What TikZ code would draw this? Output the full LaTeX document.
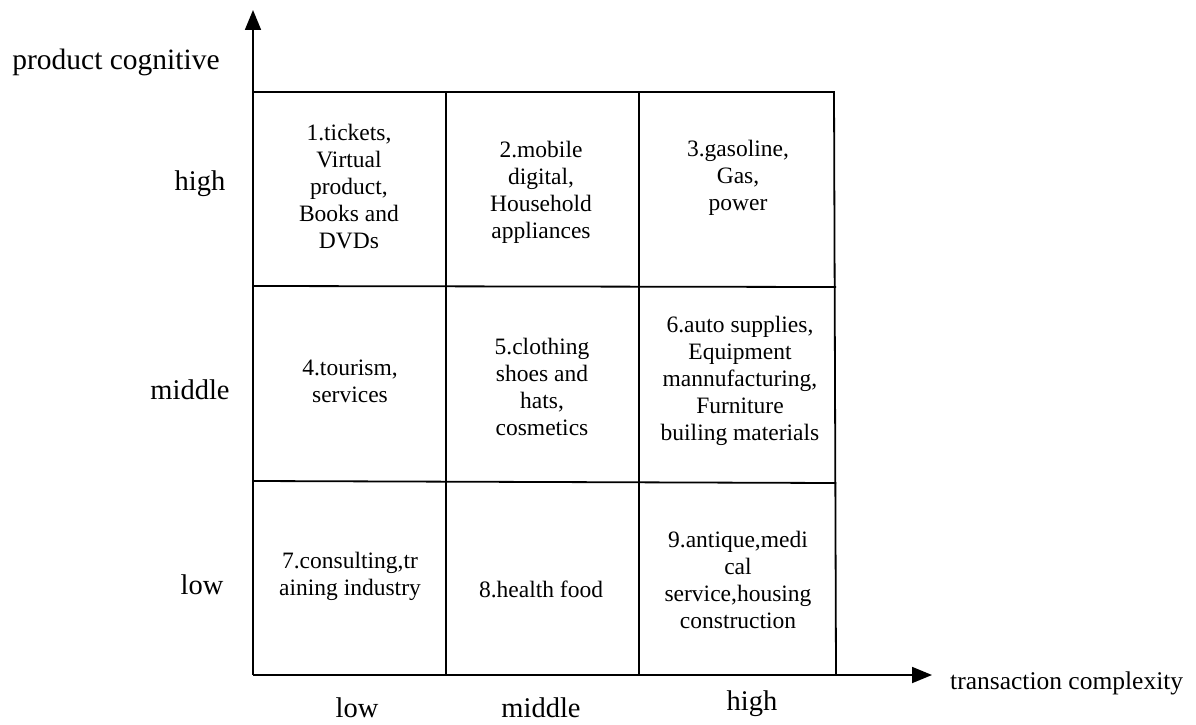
\documentclass[tikz,border=0pt]{standalone}
\usepackage{fontspec}
\setmainfont{Liberation Serif}
\usetikzlibrary{arrows.meta}
\begin{document}
\begin{tikzpicture}[x=1pt,y=-1pt,
  gridline/.style={line width=1.8pt},
  axis/.style={line width=1.8pt,-{Triangle[length=20pt,width=16pt]}},
  celltext/.style={align=center,font=\fontsize{23.5}{27}\selectfont,inner sep=0pt},
  axlabel/.style={font=\fontsize{28.5}{31}\selectfont,inner sep=0pt}]
\useasboundingbox (0,0) rectangle (1196,725);
% axes
\coordinate (O) at (253,675);
\coordinate (ytip) at (253,10);
\coordinate (xtip) at (932,675);
\draw[axis] (O) -- (ytip);
\draw[axis] (O) -- (xtip);
% grid
\coordinate (tl) at (253,92);
\coordinate (tr) at (834,92);
\coordinate (br) at (836,675);
\draw[gridline] (tl) -- (tr) -- (br);
\draw[gridline] (253,286) -- (836,287);
\draw[gridline] (253,481) -- (836,483);
\draw[gridline] (446,92) -- (446,675);
\draw[gridline] (639,92) -- (639,675);
% cell texts
\node[celltext] (c1) at (349,187) {1.tickets,\\Virtual\\product,\\Books and\\DVDs};
\node[celltext] (c2) at (541,192) {2.mobile\\digital,\\Household\\appliances};
\node[celltext] (c3) at (738,178) {3.gasoline,\\Gas,\\power};
\node[celltext] (c4) at (350,381) {4.tourism,\\services};
\node[celltext] (c5) at (542,387) {5.clothing\\shoes and\\hats,\\cosmetics};
\node[celltext] (c6) at (740,381) {6.auto supplies,\\Equipment\\mannufacturing,\\Furniture\\builing materials};
\node[celltext] (c7) at (350,576) {7.consulting,tr\\aining industry};
\node[celltext] (c8) at (541,589) {8.health food};
\node[celltext] (c9) at (738,580) {9.antique,medi\\cal\\service,housing\\construction};
% axis labels
\node[axlabel] (yl1) at (200,184) {high};
\node[axlabel] (yl2) at (190,390) {middle};
\node[axlabel] (yl3) at (202,585) {low};
\node[axlabel] (xl1) at (357,708) {low};
\node[axlabel] (xl2) at (541,708) {middle};
\node[axlabel] (xl3) at (752,704) {high};
\node[font=\fontsize{29.5}{32}\selectfont,inner sep=0pt] (ytitle) at (116,62) {product cognitive};
\node[font=\fontsize{25.5}{28}\selectfont,inner sep=0pt,anchor=west] (xtitle) at (950,683) {transaction complexity};
\end{tikzpicture}
\end{document}
